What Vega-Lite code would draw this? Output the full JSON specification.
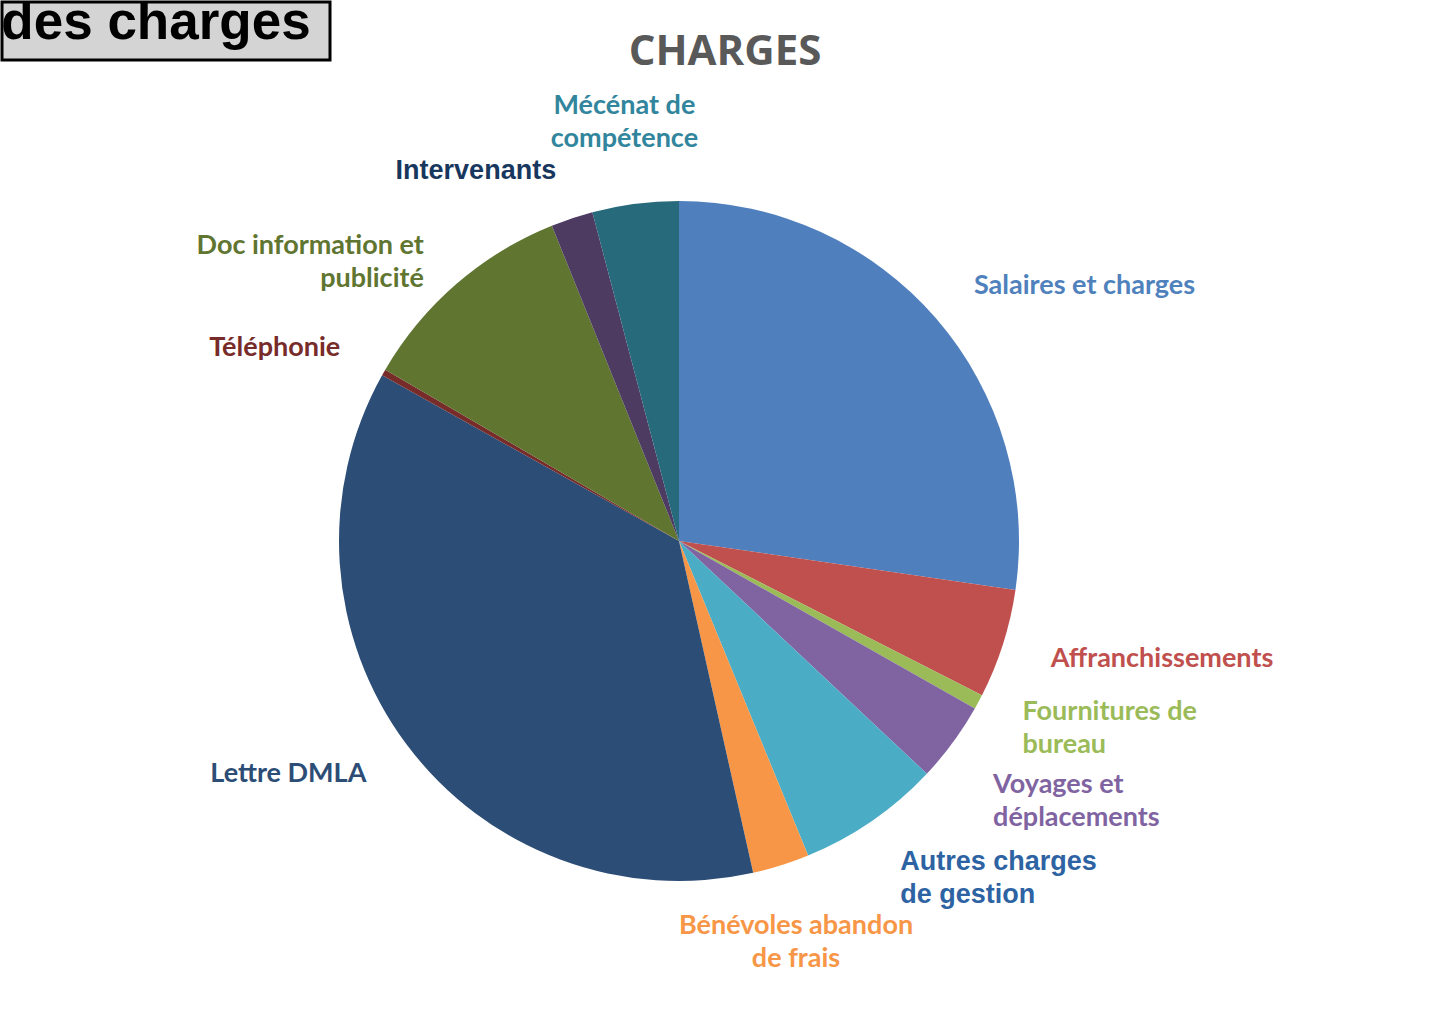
{
  "$schema": "https://vega.github.io/schema/vega-lite/v6.json",
  "padding": 0,
  "background": "white",
  "bounds": "flush",
  "spacing": 0,
  "config": {"view": {"stroke": null}},
  "vconcat": [
    {
      "width": 328,
      "height": 58,
      "view": {"fill": "#d4d4d4", "stroke": "#000000", "strokeWidth": 3},
      "data": {"values": [{"texte": "des charges"}]},
      "mark": {"type": "text", "font": "Liberation Sans", "fontWeight": "bold", "fontSize": 53, "baseline": "alphabetic", "dy": 8, "dx": -10, "color": "#000000", "clip": true},
      "encoding": {"text": {"field": "texte"}}
    },
    {
      "width": 1354,
      "height": 962,
      "title": {"text": "CHARGES", "font": "Open Sans", "fontWeight": "bold", "fontSize": 42, "color": "#595959", "anchor": "middle", "dx": 46, "offset": -14},
      "data": {
        "values": [
          {"rang": 1, "categorie": "Salaires et charges", "etiquette": ["Salaires et charges"], "valeur": 27.3},
          {"rang": 2, "categorie": "Affranchissements", "etiquette": ["Affranchissements"], "valeur": 5.2},
          {"rang": 3, "categorie": "Fournitures de bureau", "etiquette": ["Fournitures de", "bureau"], "valeur": 0.7},
          {"rang": 4, "categorie": "Voyages et déplacements", "etiquette": ["Voyages et", "déplacements"], "valeur": 3.8},
          {"rang": 5, "categorie": "Autres charges de gestion", "etiquette": ["Autres charges", "de gestion"], "valeur": 6.8},
          {"rang": 6, "categorie": "Bénévoles abandon de frais", "etiquette": ["Bénévoles abandon", "de frais"], "valeur": 2.7},
          {"rang": 7, "categorie": "Lettre DMLA", "etiquette": ["Lettre  DMLA"], "valeur": 36.6},
          {"rang": 8, "categorie": "Téléphonie", "etiquette": ["Téléphonie"], "valeur": 0.3},
          {"rang": 9, "categorie": "Doc information et publicité", "etiquette": ["Doc information et", "publicité"], "valeur": 10.5},
          {"rang": 10, "categorie": "Intervenants", "etiquette": ["Intervenants"], "valeur": 2.0},
          {"rang": 11, "categorie": "Mécénat de compétence", "etiquette": ["Mécénat de", "compétence"], "valeur": 4.1}
        ]
      },
      "layer": [
        {
          "mark": {"type": "arc", "outerRadius": 340, "stroke": null},
          "encoding": {
            "theta": {"field": "valeur", "type": "quantitative", "stack": true},
            "order": {"field": "rang", "type": "quantitative"},
            "color": {
              "field": "categorie",
              "type": "nominal",
              "legend": null,
              "scale": {
                "domain": ["Salaires et charges", "Affranchissements", "Fournitures de bureau", "Voyages et déplacements", "Autres charges de gestion", "Bénévoles abandon de frais", "Lettre DMLA", "Téléphonie", "Doc information et publicité", "Intervenants", "Mécénat de compétence"],
                "range": ["#4f7fbd", "#c0504d", "#9bbb59", "#8064a2", "#4bacc6", "#f79646", "#2c4d75", "#772c2a", "#5f7530", "#4d3b62", "#276a7c"]
              }
            }
          }
        },
        {
          "mark": {
            "type": "text",
            "radius": 390,
            "radiusOffset": {"expr": "datum.categorie === 'Mécénat de compétence' ? 35 : 0"},
            "fontSize": 27,
            "fontWeight": "bold",
            "lineHeight": 33,
            "font": {"expr": "datum.categorie === 'Intervenants' || datum.categorie === 'Autres charges de gestion' ? 'Liberation Sans' : 'Lato'"},
            "align": {"expr": "(datum.valeur_start + datum.valeur_end) * 1.8 > 345 || ((datum.valeur_start + datum.valeur_end) * 1.8 > 160 && (datum.valeur_start + datum.valeur_end) * 1.8 < 200) ? 'center' : ((datum.valeur_start + datum.valeur_end) * 1.8 < 180 ? 'left' : 'right')"},
            "baseline": {"expr": "(datum.valeur_start + datum.valeur_end) * 1.8 > 345 || datum.categorie === 'Fournitures de bureau' ? 'bottom' : (datum.categorie === 'Voyages et déplacements' || datum.categorie === 'Bénévoles abandon de frais' ? 'top' : 'middle')"}
          },
          "encoding": {
            "theta": {"field": "valeur", "type": "quantitative", "stack": true},
            "order": {"field": "rang", "type": "quantitative"},
            "text": {"field": "etiquette"},
            "color": {
              "field": "categorie",
              "type": "nominal",
              "legend": null,
              "scale": {
                "domain": ["Salaires et charges", "Affranchissements", "Fournitures de bureau", "Voyages et déplacements", "Autres charges de gestion", "Bénévoles abandon de frais", "Lettre DMLA", "Téléphonie", "Doc information et publicité", "Intervenants", "Mécénat de compétence"],
                "range": ["#4f81bd", "#c0504d", "#9bbb59", "#8064a2", "#2e63a3", "#f79646", "#2c4d75", "#772c2a", "#5f7530", "#17375e", "#31859c"]
              }
            }
          }
        }
      ],
      "resolve": {"scale": {"color": "independent"}}
    }
  ]
}
